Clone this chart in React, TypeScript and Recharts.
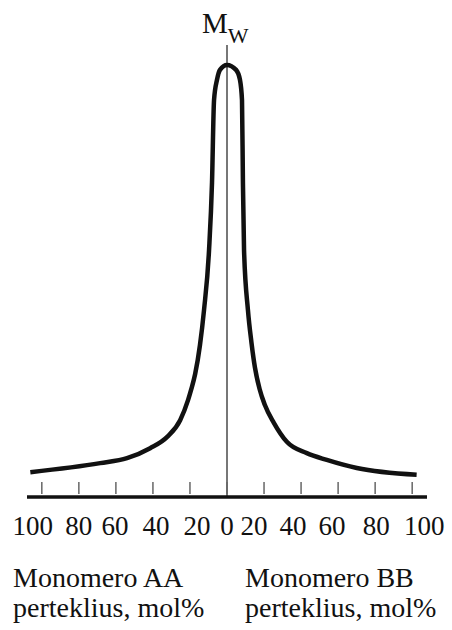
import { LineChart, Line, XAxis, YAxis, ReferenceLine } from "recharts";

// excess of monomer, mol% (negative = AA side, positive = BB side)
const curveX = [
    -106.2, -68.5, -54, -41.5, -32.3, -25.3, -21, -19.4, -17.2, -14.6, -12.4, -9.7, -8.1, -7, -5.4, -3.8, 0,
    4.9, 7, 8.1, 8.6, 9.2, 11.3, 13.2, 15.1, 17.6, 20.4, 25.3, 32.3, 43.1, 53.9, 70.1, 102.4,
];
// relative molecular weight Mw
const curveY = [
    5.5, 7.5, 8.6, 10.8, 13.3, 17, 21.5, 23.7, 27.2, 33.6, 41.4, 54.6, 69.5, 87.8, 92.3, 94.5, 95.6,
    94.5, 92.3, 87.8, 69.5, 54.6, 41.4, 34.2, 28.6, 23.9, 20.4, 16.4, 12.2, 9.7, 8.2, 6.4, 4.9,
];

const xTicks = [-100, -80, -60, -40, -20, 0, 20, 40, 60, 80, 100];

const leftCaption = ["Monomero AA", "perteklius, mol%"];
const rightCaption = ["Monomero BB", "perteklius, mol%"];

const data = curveX.map((x, i) => ({ x, mw: curveY[i] }));

const SERIF = "Liberation Serif, DejaVu Serif, Noto Serif, serif";

// the printed labels sit as one typeset line, a bit off the tick marks
const labelNudge: Record<number, number> = {
    "-100": -9, "-80": 0, "-60": -1, "-40": 3, "-20": 7, "0": 0,
    "20": -10, "40": -8, "60": -6, "80": 1, "100": 12,
};

const AxisTick = (props: any) => {
    const { x, y, payload } = props;
    const v = payload.value as number;
    return (
        <g>
            <line x1={x} x2={x} y1={y - 15} y2={y - 3} stroke="#666" strokeWidth={1.5} />
            <text
                x={x + (labelNudge[v] ?? 0)}
                y={y + 38}
                textAnchor="middle"
                style={{ fontFamily: SERIF }}
                fontSize={27}
                fill="#111"
            >
                {Math.abs(v)}
            </text>
        </g>
    );
};

const MwLabel = (props: any) => {
    const { x, y } = props.viewBox;
    return (
        <text x={x - 25} y={y - 12} style={{ fontFamily: SERIF }} fontSize={29} fill="#111">
            M
            <tspan dy={10} fontSize={22}>W</tspan>
        </text>
    );
};

const captionStyle: React.CSSProperties = {
    position: "absolute",
    fontFamily: SERIF,
    fontSize: 28,
    lineHeight: "30px",
    color: "#111",
    whiteSpace: "nowrap",
};

export default function App() {
    return (
        <div style={{ position: "relative", width: 452, height: 630, background: "#fff" }}>
            <style>{`body{margin:0}`}</style>

            <LineChart
                width={452}
                height={630}
                data={data}
                margin={{ top: 45, right: 25, left: 27, bottom: 93 }}
            >
                <XAxis
                    dataKey="x"
                    type="number"
                    domain={[-108, 108]}
                    ticks={xTicks}
                    interval={0}
                    height={40}
                    tickSize={0}
                    tickMargin={0}
                    tickLine={false}
                    tick={<AxisTick />}
                    axisLine={{ stroke: "#111", strokeWidth: 3.5 }}
                />
                <YAxis hide type="number" domain={[0, 100]} />

                <ReferenceLine x={0} stroke="#777" strokeWidth={2} label={MwLabel} />

                <Line
                    type="monotone"
                    dataKey="mw"
                    stroke="#111"
                    strokeWidth={4.5}
                    dot={false}
                    isAnimationActive={false}
                />
            </LineChart>

            <div style={{ ...captionStyle, left: 13, top: 563 }}>
                {leftCaption[0]}
                <br />
                {leftCaption[1]}
            </div>
            <div style={{ ...captionStyle, left: 245, top: 563 }}>
                {rightCaption[0]}
                <br />
                {rightCaption[1]}
            </div>
        </div>
    );
}
